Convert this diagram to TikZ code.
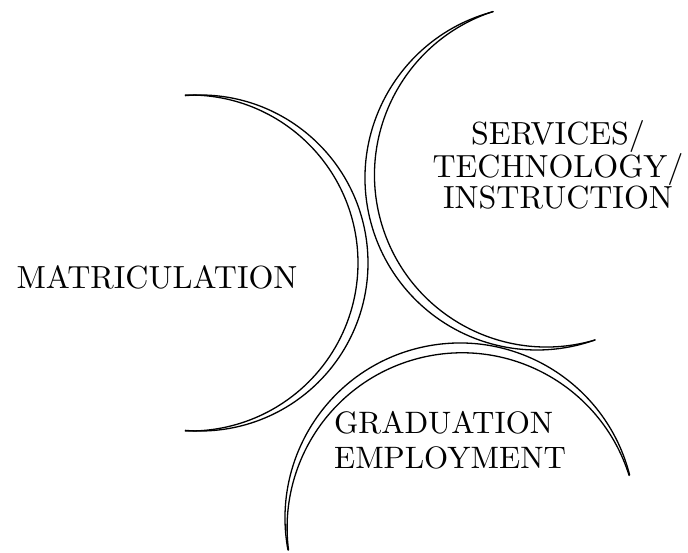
\documentclass[tikz,border=0pt]{standalone}
\usepackage{fontspec}
\setmainfont{lmroman10-regular}[Extension=.otf]
\begin{document}
\begin{tikzpicture}[x=1pt,y=1pt,yscale=-1,
	rim/.style={line width=1.3pt, line cap=round},
	stagetext/.style={font=\fontsize{32}{31}\selectfont, inner sep=0pt}]
	\useasboundingbox (0,0) rectangle (688,552);
	
	%Curve Lines: matriculation, outer and inner
	\draw [rim] (200,263) ++(-95:168) arc [start angle=-95, end angle=95, radius=168];
	\draw [rim] (190,263) ++(-91.6:168) arc [start angle=-91.6, end angle=91.6, radius=168];
	
	%Curve Lines: services, outer and inner
	\draw [rim] (537,178) ++(-104.8:172) arc [start angle=-104.8, end angle=-289.7, radius=172];
	\draw [rim] (546.5,175) ++(-108.1:172) arc [start angle=-108.1, end angle=-286.4, radius=172];
	
	%Curve Lines: graduation, outer and inner
	\draw [rim] (460,518) ++(-14.2:175) arc [start angle=-14.2, end angle=-190.5, radius=175];
	\draw [rim] (462.1,527.8) ++(-17.4:175) arc [start angle=-17.4, end angle=-187.3, radius=175];
	
	% Text Node
	\draw (157,277) node (matric) [stagetext] {MATRICULATION};
	% Text Node
	\draw (558,165) node (services) [stagetext, align=center] {SERVICES/\\TECHNOLOGY/\\INSTRUCTION};
	% Text Node
	\draw (450,440) node (graduation) [stagetext, align=left, font=\fontsize{31}{35}\selectfont] {GRADUATION\\EMPLOYMENT};
\end{tikzpicture}
\end{document}
